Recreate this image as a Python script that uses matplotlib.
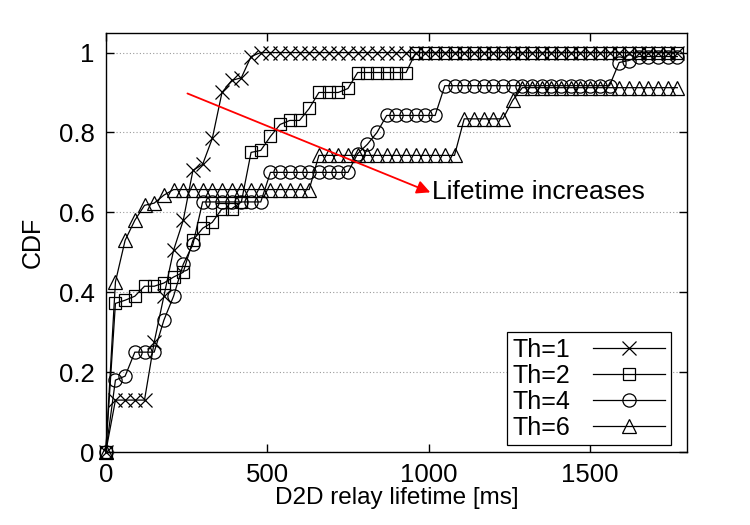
import matplotlib
matplotlib.use("Agg")
from matplotlib import pyplot as plt

plt.rcParams['font.family'] = ['Liberation Sans', 'DejaVu Sans']

# relay lifetime sample points [ms]
lifetime = [0, 30, 60, 90, 120, 150, 180, 210, 240, 270,
            300, 330, 360, 390, 420, 450, 480, 510, 540, 570,
            600, 630, 660, 690, 720, 750, 780, 810, 840, 870,
            900, 930, 960, 990, 1020, 1050, 1080, 1110, 1140, 1170,
            1200, 1230, 1260, 1290, 1320, 1350, 1380, 1410, 1440, 1470,
            1500, 1530, 1560, 1590, 1620, 1650, 1680, 1710, 1740, 1770]

cdf_th1 = [0, 0.13, 0.13, 0.13, 0.13, 0.275, 0.39, 0.505, 0.58, 0.705,
           0.72, 0.785, 0.90, 0.93, 0.937, 0.99] + [1.0] * 44

cdf_th2 = [0, 0.372, 0.38, 0.39, 0.415, 0.415, 0.423, 0.438, 0.45, 0.53,
           0.56, 0.575, 0.609, 0.609, 0.626, 0.75, 0.755, 0.79, 0.82, 0.83,
           0.83, 0.86, 0.90, 0.90, 0.90, 0.91] + [0.95] * 6 + [1.0] * 28

cdf_th4 = [0, 0.18, 0.19, 0.25, 0.25, 0.25, 0.33, 0.39, 0.47, 0.52,
           0.626] + [0.626] * 6 + [0.70] * 9 + [0.747, 0.77, 0.80] \
          + [0.8425] * 6 + [0.917] * 18 + [0.975, 0.98] + [0.99] * 5

cdf_th6 = [0, 0.426, 0.53, 0.58, 0.6175, 0.623, 0.643] + [0.657] * 15 \
          + [0.7425] * 15 + [0.834] * 5 + [0.88] + [0.912] * 17

series = [("Th=1", cdf_th1, "x", 10),
          ("Th=2", cdf_th2, "s", 9),
          ("Th=4", cdf_th4, "o", 9.5),
          ("Th=6", cdf_th6, "^", 10)]

fig = plt.figure(figsize=(7.5, 5.25), dpi=100)
ax = fig.add_axes([0.141, 0.139, 0.775, 0.799])

for label, vals, mk, ms in series:
    ax.plot(lifetime, vals, color="black", lw=0.9, marker=mk, ms=ms,
            mfc="none", mec="black", mew=0.9, label=label, clip_on=False)

ax.set_xlim(0, 1800)
ax.set_ylim(0, 1.05)
ax.set_xticks([0, 500, 1000, 1500])
ax.set_yticks([0, 0.2, 0.4, 0.6, 0.8, 1.0])
ax.set_yticklabels(["0", "0.2", "0.4", "0.6", "0.8", "1"])
ax.tick_params(direction="in", length=6, width=1, top=True, right=True,
               labelsize=18.5, pad=8)
for s in ax.spines.values():
    s.set_linewidth(1)

ax.yaxis.grid(True, linestyle=(0, (1, 2)), color="#9a9a9a", lw=0.8)
ax.set_axisbelow(True)

ax.set_xlabel("D2D relay lifetime [ms]", fontsize=17.5, labelpad=0)
ax.set_ylabel("CDF", fontsize=18, labelpad=10)

ax.annotate("", xy=(1005, 0.65), xytext=(253, 0.8975),
            arrowprops=dict(arrowstyle="-|>", color="red", lw=1.3,
                            mutation_scale=20, shrinkA=0, shrinkB=0))
ax.text(1010, 0.65, "Lifetime increases", fontsize=19, va="center", ha="left")

leg = ax.legend(loc="lower right", bbox_to_anchor=(0.972, 0.0167),
                fontsize=18, markerfirst=False, handlelength=2.9,
                labelspacing=0.08, borderpad=0.22, handletextpad=0.9,
                borderaxespad=0, fancybox=False, framealpha=1)
leg.get_frame().set_edgecolor("black")
leg.get_frame().set_linewidth(0.9)

fig.savefig("out.png", dpi=100)
